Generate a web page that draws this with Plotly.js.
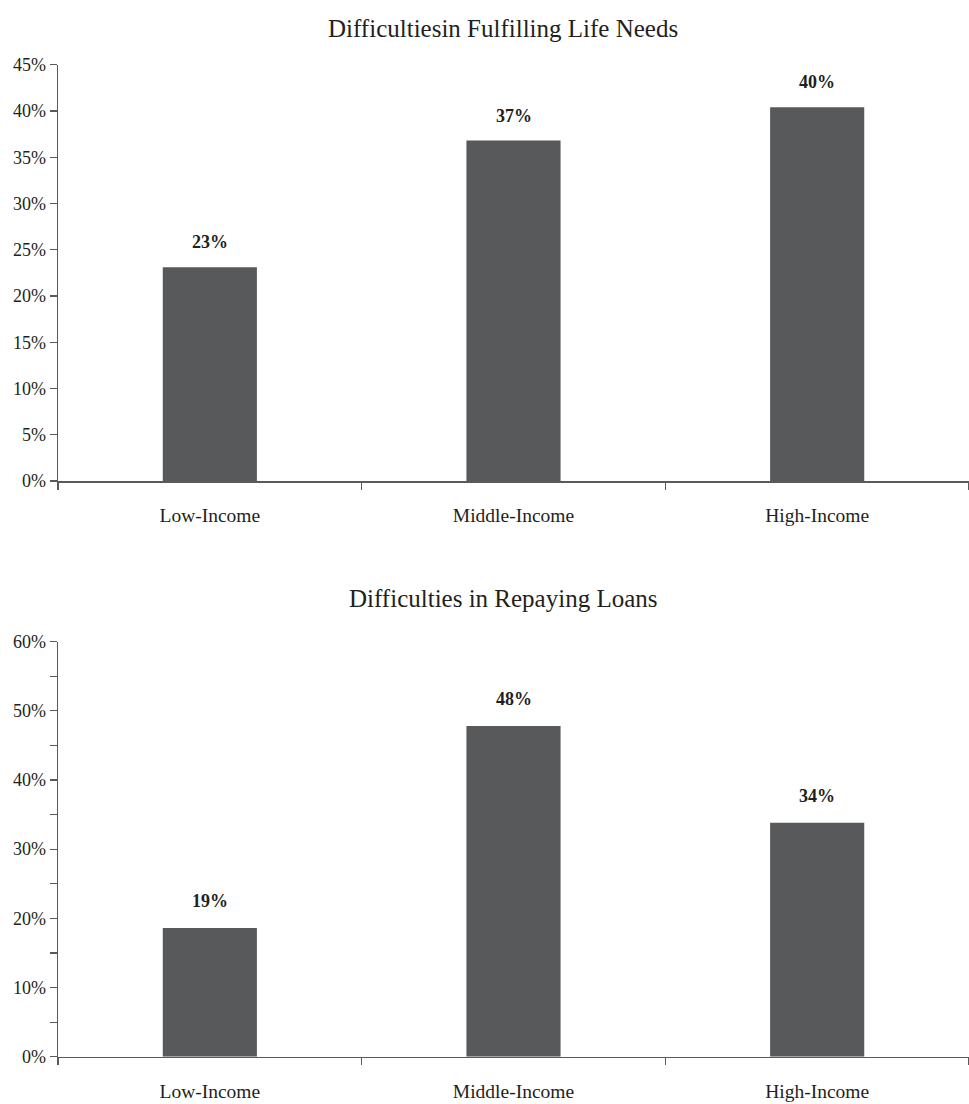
<!DOCTYPE html>
<html>
<head>
<meta charset="utf-8">
<script src="https://cdn.plot.ly/plotly-3.0.1.min.js"></script>
<style>html,body{margin:0;padding:0;background:#fff;}#chart{width:969px;height:1104px;}</style>
</head>
<body>
<div id="chart"></div>
<script>
const categories = ["Low-Income", "Middle-Income", "High-Income"];
const lifeNeeds = [23.1, 36.8, 40.4];
const loans = [18.6, 47.8, 33.8];
const titles = ["Difficultiesin Fulfilling Life Needs", "Difficulties in Repaying Loans"];

const W = 969, H = 1104;
const FONT = "Liberation Serif, Times New Roman, serif";
const TXT = "#231f20";
const BAR = "#58595b";
const AX = "#5a5a5a";

const traces = [
  {type: "bar", x: categories, y: lifeNeeds, xaxis: "x", yaxis: "y", marker: {color: BAR}, hoverinfo: "none"},
  {type: "bar", x: categories, y: loans, xaxis: "x2", yaxis: "y2", marker: {color: BAR}, hoverinfo: "none"}
];

function px2paperY(p) { return 1 - p / H; }

const common = {
  showline: true, linecolor: AX, linewidth: 1.5,
  showgrid: false, zeroline: false,
  ticks: "outside", ticklen: 7, tickcolor: AX, tickwidth: 1.2,
  tickfont: {family: FONT, size: 18, color: TXT},
  fixedrange: true
};
const xcommon = Object.assign({}, common, {domain: [0, 1], tickson: "boundaries", ticklabelstandoff: 16,
  tickfont: {family: FONT, size: 19.5, color: TXT}});

const annotations = [];
lifeNeeds.forEach((v, i) => annotations.push({
  xref: "x", yref: "y", x: categories[i], y: v, text: "<b>" + Math.round(v) + "%</b>",
  showarrow: false, yshift: 25, font: {family: FONT, size: 18, color: TXT}
}));
loans.forEach((v, i) => annotations.push({
  xref: "x2", yref: "y2", x: categories[i], y: v, text: "<b>" + Math.round(v) + "%</b>",
  showarrow: false, yshift: 27, font: {family: FONT, size: 18, color: TXT}
}));
annotations.push({xref: "paper", yref: "paper", x: (503 - 58) / 911, y: px2paperY(28), text: titles[0],
  showarrow: false, xanchor: "center", yanchor: "middle", font: {family: FONT, size: 25, color: TXT}});
annotations.push({xref: "paper", yref: "paper", x: (503 - 58) / 911, y: px2paperY(598), text: titles[1],
  showarrow: false, xanchor: "center", yanchor: "middle", font: {family: FONT, size: 25, color: TXT}});

const layout = {
  width: W, height: H,
  margin: {l: 58, r: 0, t: 0, b: 0},
  paper_bgcolor: "#fff", plot_bgcolor: "#fff",
  showlegend: false,
  bargap: 0.69,
  font: {family: FONT, color: TXT},
  xaxis: Object.assign({}, xcommon, {anchor: "y"}),
  yaxis: Object.assign({}, common, {domain: [px2paperY(481), px2paperY(64.7)], anchor: "x", range: [0, 45], dtick: 5, ticksuffix: "%"}),
  xaxis2: Object.assign({}, xcommon, {anchor: "y2"}),
  yaxis2: Object.assign({}, common, {domain: [px2paperY(1056.7), px2paperY(641.6)], anchor: "x2", range: [0, 60], dtick: 10, ticksuffix: "%",
    minor: {dtick: 5, ticks: "outside", ticklen: 7, tickcolor: AX, tickwidth: 1.2, showgrid: false}}),
  annotations: annotations
};

Plotly.newPlot("chart", traces, layout, {displayModeBar: false, staticPlot: true});
</script>
</body>
</html>
